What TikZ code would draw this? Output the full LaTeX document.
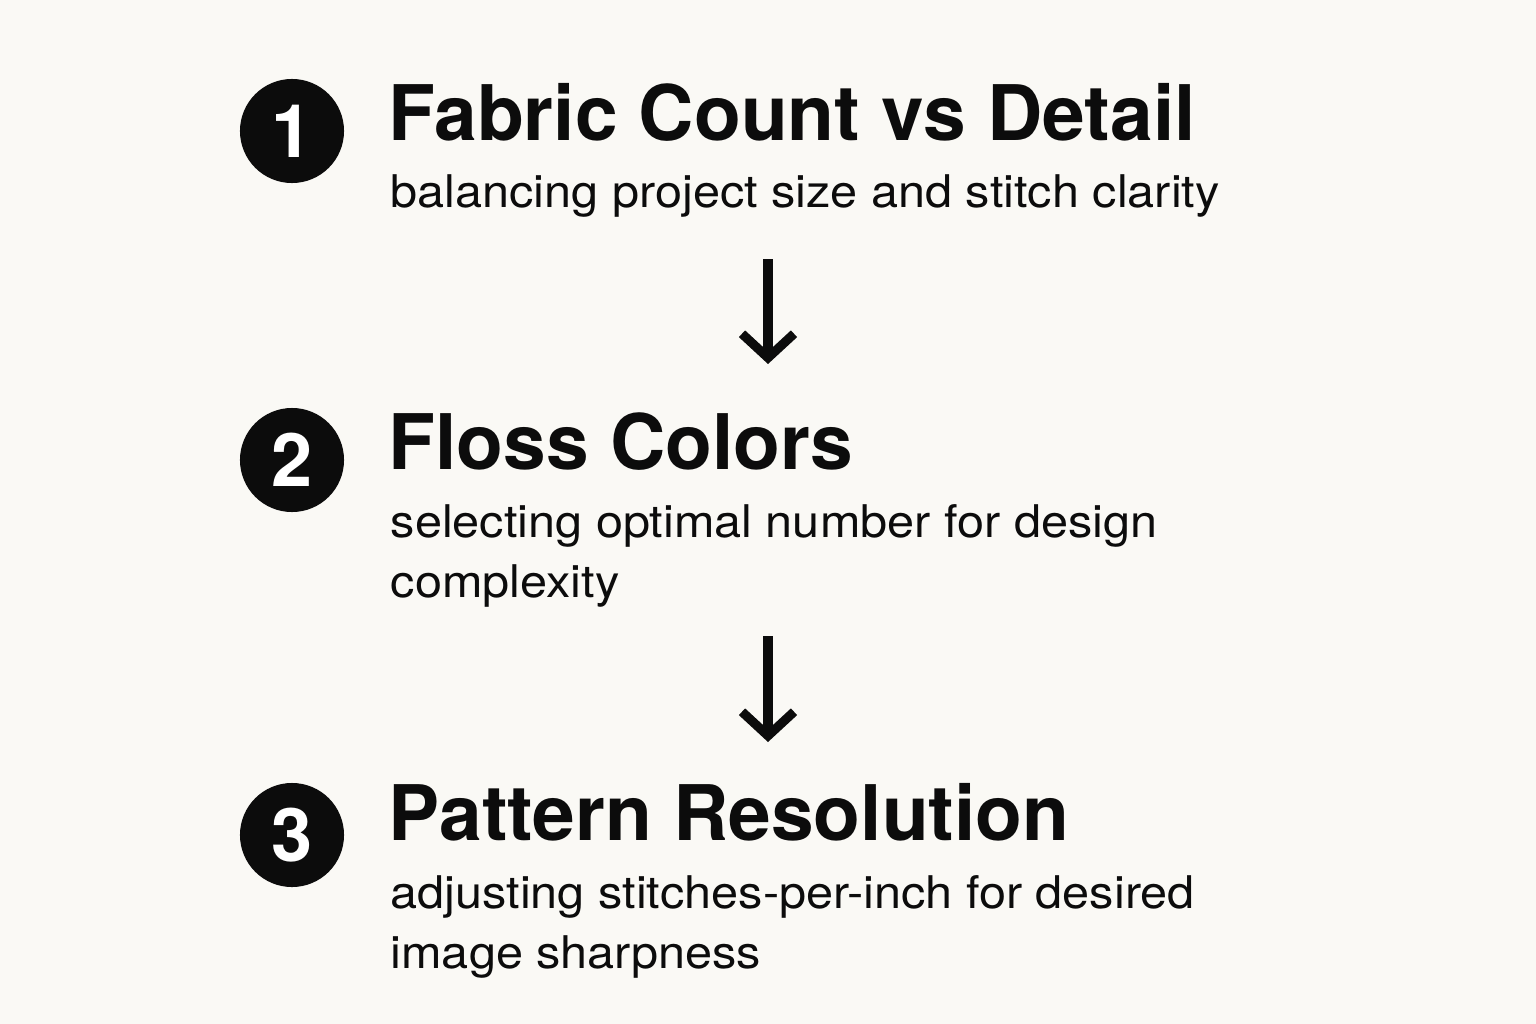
\documentclass[tikz,border=0pt]{standalone}
\usepackage{fontspec}
\setmainfont{TeX Gyre Heros}
\newfontfamily\subfont[FakeStretch=1.08]{TeX Gyre Heros}
\usepackage{tikz}
\usetikzlibrary{arrows.meta}
\usetikzlibrary{positioning}
\definecolor{paper}{RGB}{250,249,245}
\definecolor{ink}{RGB}{12,12,12}
\tikzset{
	num/.style={circle, fill=ink, text=white, minimum size=1.04cm, inner sep=0pt,
		font=\fontsize{21}{24}\selectfont\bfseries},
	steptitle/.style={anchor=base west, inner sep=0pt, text=ink,
		font=\fontsize{21.8}{26}\selectfont\bfseries},
	stepsub/.style={anchor=base west, inner sep=0pt, text=ink, align=left,
		font=\subfont\fontsize{12.8}{17}\selectfont},
}

\begin{document}
\begin{tikzpicture}[x=0.01cm, y=-0.01cm,
	flow/.style={draw=ink, line width=2.6pt, -{Straight Barb[length=2.4mm,width=5.2mm]}}]
	
	% page
	\fill[paper] (0,0) rectangle (1536,1024);
	\useasboundingbox (0,0) rectangle (1536,1024);
	
	% step circles
	\node[num] (N1) at (292,131) {1};
	\node[num] (N2) at (292,460) {2};
	\node[num] (N3) at (292,835) {3};
	
	% step titles
	\node[steptitle] (T1) at (388,140) {Fabric Count vs Detail};
	\node[steptitle] (T2) at (388,469) {Floss Colors};
	\node[steptitle] (T3) at (388,840) {Pattern Resolution};
	
	% step notes (base = last line)
	\node[stepsub] (S1) at (390,207) {balancing project size and stitch clarity};
	\node[stepsub] (S2) at (390,597) {selecting optimal number for design\\complexity};
	\node[stepsub] (S3) at (390,968) {adjusting stitches-per-inch for desired\\image sharpness};
	
	% arrow ends
	\coordinate (A1) at (768,259);
	\coordinate (B1) at (768,364);
	\coordinate (A2) at (768,636);
	\coordinate (B2) at (768,742);
	
	% arrows
	\foreach \a in {1, 2}
	\draw[flow] (A\a) -- (B\a);
	
\end{tikzpicture}
\end{document}
